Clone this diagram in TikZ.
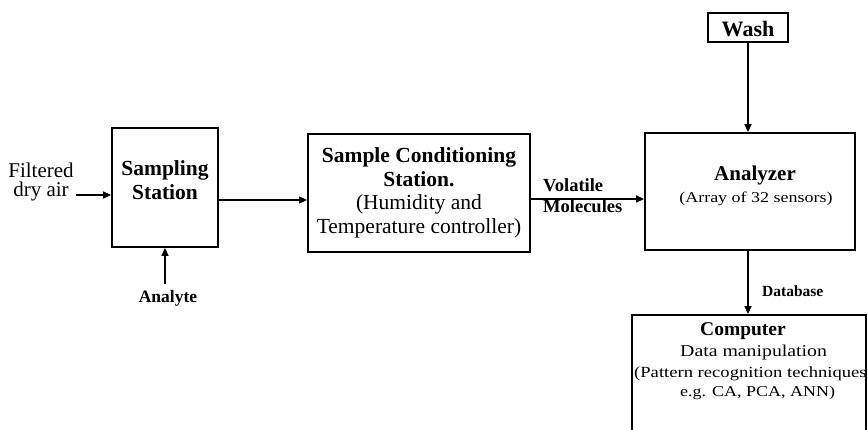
\documentclass[tikz,border=0pt]{standalone}
\usepackage{fontspec}
\setmainfont{Liberation Serif}
\newfontfamily\widefont{Liberation Serif}[FakeStretch=1.2]
\usetikzlibrary{arrows.meta}
\begin{document}
\begin{tikzpicture}[x=1pt,y=-1pt,
  box/.style={draw, line width=1.8pt, inner sep=0pt, align=center},
  arr/.style={line width=1.6pt, -{Triangle[length=8pt,width=7pt]}},
  lbl/.style={inner sep=0pt, align=center},
  bl/.style={inner sep=0pt, anchor=base west}]
\clip (0,0) rectangle (868,430);
\useasboundingbox (0,0) rectangle (868,430);

% boxes
\node[box, minimum width=106pt, minimum height=119pt] (samp) at (165,187.5) {};
\node[lbl, font=\bfseries\fontsize{21.5}{24}\selectfont] (samptxt) at (165,180) {Sampling\\Station};
\node[box, minimum width=222pt, minimum height=118pt,
      font=\fontsize{21.5}{23.5}\selectfont] (cond) at (419,193)
  {\textbf{Sample Conditioning}\\\textbf{Station.}\hspace*{18pt}\\(Humidity and\hspace*{18pt}\\Temperature controller)};
\node[box, minimum width=210pt, minimum height=117pt] (ana) at (750,191.5) {};
\node[lbl, anchor=base, font=\bfseries\fontsize{21}{24}\selectfont] (anatitle) at (755,181) {Analyzer};
\node[lbl, anchor=base, font=\widefont\fontsize{15}{18}\selectfont] (anasub) at (756,203) {(Array of 32 sensors)};
\node[box, line width=1.5pt, minimum width=80pt, minimum height=29pt, text height=19pt, text depth=0pt,
      font=\bfseries\fontsize{22}{24}\selectfont] (wash) at (748,27.5) {Wash};
\node[box, minimum width=234pt, minimum height=130pt] (comp) at (749,380) {};
\node[bl, font=\bfseries\fontsize{19.5}{20}\selectfont] (comp1) at (700,336) {Computer};
\node[bl, font=\widefont\fontsize{16.5}{20}\selectfont] (comp2) at (680,357) {Data manipulation};
\node[bl, font=\widefont\fontsize{15.5}{20}\selectfont] (comp3) at (634,378) {(Pattern recognition techniques};
\node[bl, font=\widefont\fontsize{15}{20}\selectfont] (comp4) at (680,397) {e.g. CA, PCA, ANN)};

% labels
\node[lbl, font=\fontsize{21}{19.5}\selectfont] (fda) at (41,182) {Filtered\\dry air};
\node[lbl, font=\bfseries\fontsize{17.5}{20}\selectfont] (anal) at (168,298) {Analyte};
\node[bl, font=\bfseries\fontsize{18.5}{20}\selectfont] (vol) at (543,192) {Volatile};
\node[bl, font=\bfseries\fontsize{18.5}{20}\selectfont] (mol) at (543,213) {Molecules};
\node[bl, font=\bfseries\fontsize{15.5}{18}\selectfont] (db) at (762,297) {Database};

% helper coordinates
\coordinate (yA) at (0,195);
\coordinate (yB) at (0,200);
\coordinate (yC) at (0,199);
\coordinate (anaTop) at ([yshift=6pt]anal.north);

% connectors
\draw[arr] ([xshift=2pt]fda.east |- yA) -- (samp.west |- yA);
\draw[arr] (anaTop -| samp.south) -- (samp.south);
\draw[arr] (samp.east |- yB) -- (cond.west |- yB);
\draw[arr] (cond.east |- yC) -- (ana.west |- yC);
\draw[arr] (wash.south) -- (wash.south |- ana.north);
\draw[arr] (ana.south -| wash.south) -- (comp.north -| wash.south);
\end{tikzpicture}
\end{document}
